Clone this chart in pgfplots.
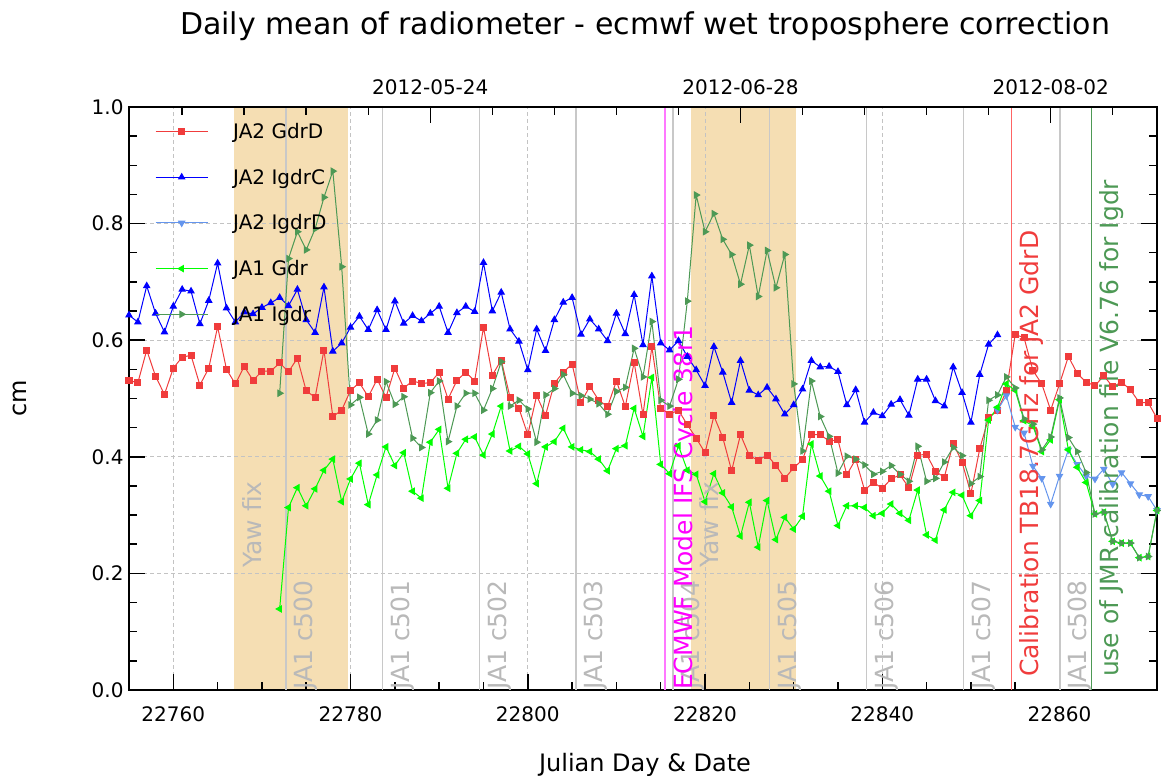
\documentclass[border=0pt]{standalone}
\usepackage{fontspec}
\setmainfont{DejaVu Sans}
\usepackage{pgfplots}
\pgfplotsset{compat=1.18}
\definecolor{cRed}{RGB}{240,60,60}
\definecolor{cBlue}{RGB}{0,0,255}
\definecolor{cLBlue}{RGB}{100,149,237}
\definecolor{cLime}{RGB}{0,255,0}
\definecolor{cDGreen}{RGB}{77,153,85}
\definecolor{cWheat}{RGB}{245,222,179}
\definecolor{cCyc}{RGB}{200,200,200}
\definecolor{cCycText}{RGB}{185,185,185}
\definecolor{cMag}{RGB}{255,0,255}
\definecolor{cMagLine}{RGB}{255,120,255}
\definecolor{cRedLine}{RGB}{255,100,100}
\definecolor{cGrid}{RGB}{195,195,195}
\newcommand\annfont{\fontsize{25bp}{30bp}\selectfont}
\begin{document}
\begin{tikzpicture}
\begin{axis}[name=ax, set layers,
  scale only axis, width=1028bp, height=583bp,
  xmin=22755, xmax=22871, ymin=0, ymax=1,
  scaled x ticks=false, scaled y ticks=false,
  xtick={22760,22780,22800,22820,22840,22860}, minor x tick num=3,
  ytick={0,0.2,0.4,0.6,0.8,1.0}, minor y tick num=3,
  xtick pos=left, ytick pos=both, tick align=inside,
  major tick length=16bp, minor tick length=8.5bp,
  every tick/.style={black, line width=1.5bp},
  axis line style={line width=1.5bp},
  grid=major, major grid style={color=cGrid, line width=0.8bp, dash pattern=on 4bp off 3bp},
  tick label style={font=\fontsize{20bp}{24bp}\selectfont},
  /pgf/number format/assume math mode=true,
  xticklabel style={/pgf/number format/fixed, /pgf/number format/precision=0, /pgf/number format/1000 sep={}, yshift=-13bp},
  yticklabel style={/pgf/number format/fixed, /pgf/number format/fixed zerofill, /pgf/number format/precision=1, xshift=-2bp},
  legend cell align=left,
  legend style={draw=none, fill=none, at={(0,1)}, anchor=north west, xshift=26bp, yshift=-16bp,
    font=\fontsize{20bp}{24bp}\selectfont, row sep=29bp, inner sep=0pt,
    nodes={inner sep=0pt},
    /tikz/every odd column/.append style={column sep=25bp}},
  legend image code/.code={\draw[mark repeat=2,mark phase=2,#1] plot coordinates {(0bp,0bp) (26bp,0bp) (52bp,0bp)};},
]
\begin{pgfonlayer}{axis background}
\fill[cWheat] (axis cs:22766.87,0) rectangle (axis cs:22779.72,1);
\fill[cWheat] (axis cs:22818.37,0) rectangle (axis cs:22830.28,1);
\end{pgfonlayer}
% cycle lines
\foreach \c in {22772.70,22783.62,22794.54,22805.46,22816.38,22827.30,22838.22,22849.14,22860.06}{
  \edef\tmp{\noexpand\draw[cCyc, line width=1.5bp] (axis cs:\c,0) -- (axis cs:\c,1);}\tmp
}
\draw[cMagLine, line width=2bp] (axis cs:22815.52,0) -- (axis cs:22815.52,1);
\draw[cRedLine, line width=1.5bp] (axis cs:22854.57,0) -- (axis cs:22854.57,1);
\draw[cDGreen, line width=1.5bp] (axis cs:22863.58,0) -- (axis cs:22863.58,1);

\addplot[cRed, line width=1bp, mark=square*, mark size=3bp, mark options={solid}] coordinates {
(22755,0.531)(22756,0.527)(22757,0.583)(22758,0.538)(22759,0.507)(22760,0.552)(22761,0.571)(22762,0.574)(22763,0.523)(22764,0.552)
(22765,0.623)(22766,0.550)(22767,0.525)(22768,0.555)(22769,0.531)(22770,0.547)(22771,0.547)(22772,0.561)(22773,0.546)(22774,0.569)
(22775,0.513)(22776,0.502)(22777,0.583)(22778,0.469)(22779,0.480)(22780,0.514)(22781,0.527)(22782,0.503)(22783,0.533)(22784,0.502)
(22785,0.552)(22786,0.518)(22787,0.530)(22788,0.526)(22789,0.527)(22790,0.545)(22791,0.499)(22792,0.531)(22793,0.545)(22794,0.530)
(22795,0.622)(22796,0.540)(22797,0.566)(22798,0.502)(22799,0.483)(22800,0.438)(22801,0.505)(22802,0.471)(22803,0.526)(22804,0.545)
(22805,0.559)(22806,0.493)(22807,0.521)(22808,0.497)(22809,0.486)(22810,0.530)(22811,0.486)(22812,0.562)(22813,0.472)(22814,0.589)
(22815,0.483)(22816,0.473)(22817,0.480)(22818,0.455)(22819,0.432)(22820,0.407)(22821,0.470)(22822,0.433)(22823,0.376)(22824,0.438)
(22825,0.402)(22826,0.394)(22827,0.403)(22828,0.385)(22829,0.363)(22830,0.381)(22831,0.395)(22832,0.438)(22833,0.438)(22834,0.427)
(22835,0.429)(22836,0.369)(22837,0.396)(22838,0.343)(22839,0.356)(22840,0.346)(22841,0.362)(22842,0.369)(22843,0.347)(22844,0.403)
(22845,0.404)(22846,0.375)(22847,0.365)(22848,0.423)(22849,0.391)(22850,0.337)(22851,0.414)(22852,0.467)(22853,0.479)(22854,0.513)
(22855,0.610)(22856,0.604)(22857,0.548)(22858,0.525)(22859,0.480)(22860,0.525)(22861,0.572)(22862,0.543)(22863,0.528)(22864,0.522)
(22865,0.539)(22866,0.520)(22867,0.528)(22868,0.515)(22869,0.493)(22870,0.493)(22871,0.466)};
\addlegendentry{JA2 GdrD}

\addplot[cBlue, line width=1bp, mark=triangle*, mark size=3.5bp] coordinates {
(22755,0.643)(22756,0.631)(22757,0.693)(22758,0.646)(22759,0.614)(22760,0.658)(22761,0.687)(22762,0.684)(22763,0.628)(22764,0.668)
(22765,0.732)(22766,0.655)(22767,0.631)(22768,0.648)(22769,0.645)(22770,0.656)(22771,0.664)(22772,0.673)(22773,0.659)(22774,0.687)
(22775,0.635)(22776,0.613)(22777,0.691)(22778,0.581)(22779,0.595)(22780,0.622)(22781,0.641)(22782,0.618)(22783,0.652)(22784,0.618)
(22785,0.667)(22786,0.629)(22787,0.642)(22788,0.633)(22789,0.646)(22790,0.658)(22791,0.613)(22792,0.647)(22793,0.658)(22794,0.649)
(22795,0.733)(22796,0.650)(22797,0.682)(22798,0.619)(22799,0.598)(22800,0.549)(22801,0.619)(22802,0.582)(22803,0.635)(22804,0.665)
(22805,0.673)(22806,0.610)(22807,0.636)(22808,0.619)(22809,0.599)(22810,0.646)(22811,0.611)(22812,0.678)(22813,0.592)(22814,0.710)
(22815,0.595)(22816,0.583)(22817,0.599)(22818,0.572)(22819,0.549)(22820,0.522)(22821,0.589)(22822,0.545)(22823,0.493)(22824,0.565)
(22825,0.514)(22826,0.506)(22827,0.519)(22828,0.499)(22829,0.473)(22830,0.489)(22831,0.516)(22832,0.565)(22833,0.554)(22834,0.555)
(22835,0.546)(22836,0.489)(22837,0.515)(22838,0.459)(22839,0.476)(22840,0.470)(22841,0.490)(22842,0.498)(22843,0.471)(22844,0.533)
(22845,0.533)(22846,0.496)(22847,0.487)(22848,0.554)(22849,0.510)(22850,0.459)(22851,0.541)(22852,0.593)(22853,0.609)};
\addlegendentry{JA2 IgdrC}

\addplot[cLBlue, line width=1bp, mark=triangle*, mark size=3.5bp, mark options={rotate=180}] coordinates {
(22853,0.480)(22854,0.505)(22855,0.451)(22856,0.441)(22857,0.384)(22858,0.363)(22859,0.319)(22860,0.367)(22861,0.412)(22862,0.387)
(22863,0.367)(22864,0.362)(22865,0.379)(22866,0.353)(22867,0.373)(22868,0.354)(22869,0.335)(22870,0.332)(22871,0.308)};
\addlegendentry{JA2 IgdrD}

\addplot[cLime, line width=1bp, mark=triangle*, mark size=3.5bp, mark options={rotate=90}] coordinates {
(22772,0.139)(22773,0.313)(22774,0.347)(22775,0.316)(22776,0.345)(22777,0.377)(22778,0.396)(22779,0.323)(22780,0.362)(22781,0.389)
(22782,0.318)(22783,0.369)(22784,0.417)(22785,0.385)(22786,0.407)(22787,0.341)(22788,0.329)(22789,0.425)(22790,0.447)(22791,0.346)
(22792,0.406)(22793,0.430)(22794,0.434)(22795,0.403)(22796,0.439)(22797,0.487)(22798,0.410)(22799,0.418)(22800,0.405)(22801,0.354)
(22802,0.417)(22803,0.426)(22804,0.449)(22805,0.417)(22806,0.412)(22807,0.409)(22808,0.396)(22809,0.376)(22810,0.414)(22811,0.419)
(22812,0.483)(22813,0.435)(22814,0.536)(22815,0.387)(22816,0.371)(22817,0.419)(22818,0.377)(22819,0.370)(22820,0.323)(22821,0.371)
(22822,0.338)(22823,0.314)(22824,0.264)(22825,0.322)(22826,0.245)(22827,0.325)(22828,0.258)(22829,0.296)(22830,0.276)(22831,0.298)
(22832,0.422)(22833,0.367)(22834,0.341)(22835,0.282)(22836,0.316)(22837,0.316)(22838,0.313)(22839,0.299)(22840,0.303)(22841,0.319)
(22842,0.303)(22843,0.291)(22844,0.343)(22845,0.266)(22846,0.257)(22847,0.309)(22848,0.339)(22849,0.334)(22850,0.299)(22851,0.325)
(22852,0.463)(22853,0.485)(22854,0.525)(22855,0.514)(22856,0.462)(22857,0.453)(22858,0.409)(22859,0.429)(22860,0.498)(22861,0.412)
(22862,0.382)(22863,0.356)(22864,0.302)(22865,0.305)(22866,0.255)(22867,0.252)(22868,0.252)(22869,0.227)(22870,0.229)(22871,0.308)};
\addlegendentry{JA1 Gdr}

\addplot[cDGreen, line width=1bp, mark=triangle*, mark size=3.5bp, mark options={rotate=-90}] coordinates {
(22772,0.509)(22773,0.740)(22774,0.786)(22775,0.755)(22776,0.791)(22777,0.845)(22778,0.890)(22779,0.726)(22780,0.489)(22781,0.502)
(22782,0.439)(22783,0.463)(22784,0.529)(22785,0.490)(22786,0.503)(22787,0.432)(22788,0.416)(22789,0.510)(22790,0.530)(22791,0.426)
(22792,0.487)(22793,0.509)(22794,0.509)(22795,0.480)(22796,0.517)(22797,0.563)(22798,0.487)(22799,0.497)(22800,0.482)(22801,0.425)
(22802,0.506)(22803,0.517)(22804,0.541)(22805,0.509)(22806,0.505)(22807,0.499)(22808,0.491)(22809,0.473)(22810,0.512)(22811,0.519)
(22812,0.586)(22813,0.537)(22814,0.632)(22815,0.497)(22816,0.487)(22817,0.533)(22818,0.667)(22819,0.849)(22820,0.786)(22821,0.817)
(22822,0.773)(22823,0.747)(22824,0.696)(22825,0.763)(22826,0.675)(22827,0.754)(22828,0.690)(22829,0.747)(22830,0.525)(22831,0.410)
(22832,0.530)(22833,0.469)(22834,0.435)(22835,0.372)(22836,0.401)(22837,0.396)(22838,0.386)(22839,0.370)(22840,0.375)(22841,0.385)
(22842,0.370)(22843,0.358)(22844,0.418)(22845,0.358)(22846,0.363)(22847,0.391)(22848,0.416)(22849,0.402)(22850,0.354)(22851,0.366)
(22852,0.497)(22853,0.506)(22854,0.537)(22855,0.518)(22856,0.465)(22857,0.456)(22858,0.412)(22859,0.434)(22860,0.501)(22861,0.433)
(22862,0.409)(22863,0.373)(22864,0.302)(22865,0.305)(22866,0.255)(22867,0.252)(22868,0.252)(22869,0.227)(22870,0.229)(22871,0.308)};
\addlegendentry{JA1 Igdr}

% annotations
\foreach \c/\n in {22773.60/500,22784.52/501,22795.44/502,22806.36/503,22817.28/504,22828.20/505,22839.12/506,22850.04/507,22860.96/508}{
  \edef\tmp{\noexpand\node[rotate=90, anchor=north west, inner sep=0pt, font=\noexpand\annfont, text=cCycText] at (axis cs:\c,0) {JA1 c\n};}\tmp
}
\node[rotate=90, anchor=north west, inner sep=0pt, font=\annfont, text=cCycText] at (axis cs:22767.8,0.21) {Yaw fix};
\node[rotate=90, anchor=north west, inner sep=0pt, font=\annfont, text=cCycText] at (axis cs:22819.3,0.21) {Yaw fix};
\node[rotate=90, anchor=north west, inner sep=0pt, font=\annfont, text=cMag] at (axis cs:22816.45,0.0) {ECMWF Model IFS Cycle 38r1};
\node[rotate=90, anchor=north west, inner sep=0pt, font=\annfont, text=cRed] at (axis cs:22855.5,0.022) {Calibration TB18.7GHz for JA2 GdrD};
\node[rotate=90, anchor=north west, inner sep=0pt, font=\annfont, text=cDGreen] at (axis cs:22864.5,0.022) {use of JMR calibration file V6.76 for Igdr};
\end{axis}
\begin{axis}[
  scale only axis, width=1028bp, height=583bp,
  xmin=22755, xmax=22871, ymin=0, ymax=1,
  scaled x ticks=false,
  axis x line*=top, axis y line=none,
  xtick={22789,22824,22859}, xticklabels={2012-05-24,2012-06-28,2012-08-02},
  minor xtick={22761,22768,22775,22782,22796,22803,22810,22817,22831,22838,22845,22852,22866},
  tick align=inside, major tick length=16bp, minor tick length=8.5bp,
  every tick/.style={black, line width=1.5bp},
  axis line style={line width=1.5bp},
  xticklabel style={font=\fontsize{20bp}{24bp}\selectfont, yshift=9bp},
]
\addplot[draw=none] coordinates {(22760,0.5)};
\end{axis}
\node[font=\fontsize{30bp}{36bp}\selectfont, anchor=center] at ([shift={(516bp,81bp)}]ax.north west) {Daily mean of radiometer - ecmwf wet troposphere correction};
\node[font=\fontsize{24bp}{28bp}\selectfont, anchor=center] at ([shift={(516bp,-75bp)}]ax.south west) {Julian Day \& Date};
\node[font=\fontsize{24bp}{28bp}\selectfont, anchor=center, rotate=90] at ([shift={(-109bp,291.5bp)}]ax.south west) {cm};
\pgfresetboundingbox
\path[use as bounding box] ([shift={(-129bp,-93bp)}]ax.south west) rectangle ([shift={(4bp,107bp)}]ax.north east);
\end{tikzpicture}
\end{document}
